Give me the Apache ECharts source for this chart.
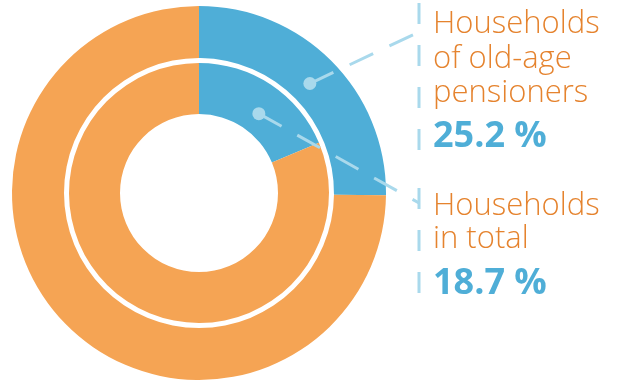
<!DOCTYPE html>
<html>
<head>
<meta charset="utf-8">
<script src="https://cdn.jsdelivr.net/npm/echarts@6/dist/echarts.min.js"></script>
<style>html,body{margin:0;padding:0;background:#fff}#c{width:619px;height:384px}</style>
</head>
<body>
<div id="c"></div>
<script>
// Data
const ringNames = ['Households of old-age pensioners', 'Households in total'];
const shares = [25.2, 18.7];           // % share shown in blue (outer, inner)
const labelLines = [['Households', 'of old-age', 'pensioners'], ['Households', 'in total']];
const valueLabels = ['25.2 %', '18.7 %'];

const BLUE = '#4FAED7', ORANGE = '#F5A454', TXT = '#E5832E', LINE = '#A9D9EC';
const cx = 199, cy = 193;
const radii = [[135, 187], [79, 130]];

const chart = echarts.init(document.getElementById('c'), null, {renderer: 'canvas'});

const series = shares.map((v, i) => ({
  type: 'pie', name: ringNames[i], center: [cx, cy], radius: radii[i],
  startAngle: 90, clockwise: true, silent: true, animation: false, z: 1,
  label: {show: false}, labelLine: {show: false},
  itemStyle: {borderWidth: 0},
  data: [
    {value: v, name: ringNames[i], itemStyle: {color: BLUE}},
    {value: 100 - v, name: 'other', itemStyle: {color: ORANGE}}
  ]
}));

// connector anchors computed from ring geometry and value
function anchor(i, frac) {
  const ang = (shares[i] / 100) * Math.PI * frac; // mid angle from 12 o'clock
  const r = radii[i][0] + (radii[i][1] - radii[i][0]) * (i === 0 ? 0.4 : 0.4);
  return [cx + r * Math.sin(ang), cy - r * Math.cos(ang)];
}
const vx = 419;
const joins = [32, 203];
const vspans = [[3, 150], [188, 297]];
const graphics = [];
[0, 1].forEach(i => {
  const a = anchor(i, i === 0 ? 1.0 : 1.1);
  graphics.push({type: 'polyline', silent: true, z: 100, shape: {points: [a, [vx, joins[i]]]},
    style: {stroke: LINE, lineWidth: 3, lineDash: [26, 18], fill: null}});
  graphics.push({type: 'line', silent: true, z: 100, shape: {x1: vx, y1: vspans[i][0], x2: vx, y2: vspans[i][1]},
    style: {stroke: LINE, lineWidth: 3, lineDash: [21, 21]}});
  graphics.push({type: 'circle', silent: true, z: 101, shape: {cx: a[0], cy: a[1], r: 6.5}, style: {fill: LINE}});
});
const lineYs = [[24, 59, 93], [206, 239]];
const valYs = [137, 284];
[0, 1].forEach(i => {
  labelLines[i].forEach((t, k) => {
    graphics.push({type: 'text', silent: true, z: 100, x: 433, y: lineYs[i][k],
      style: {text: t, fill: TXT, font: '300 31px "Open Sans", sans-serif', textAlign: 'left', textVerticalAlign: 'middle'}});
  });
  graphics.push({type: 'text', silent: true, z: 100, x: 433, y: valYs[i],
    style: {text: valueLabels[i], fill: BLUE, font: 'bold 36px "Open Sans", sans-serif', textAlign: 'left', textVerticalAlign: 'middle'}});
});

chart.setOption({animation: false, series: series, graphic: graphics});
</script>
</body>
</html>
